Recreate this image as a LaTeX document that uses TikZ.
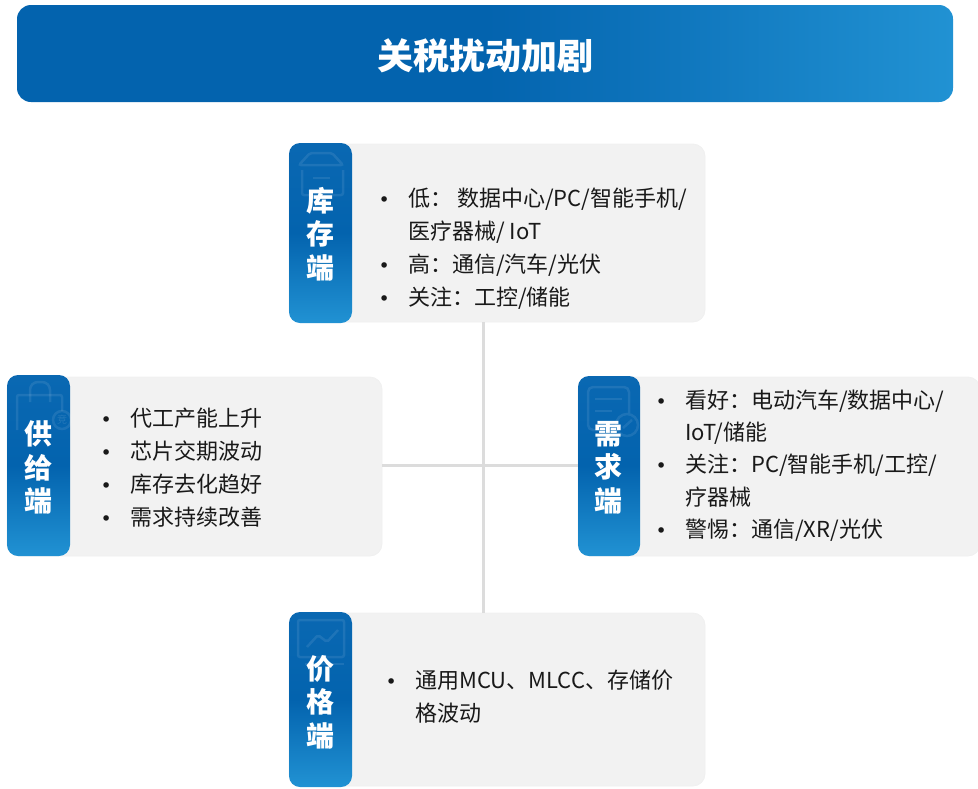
\documentclass[tikz,border=0pt]{standalone}
\usepackage{fontspec}
\setmainfont{Noto Sans CJK SC}
\newfontfamily\bulfont{DejaVu Sans}
\usetikzlibrary{calc}
\definecolor{bluedark}{HTML}{0363AE}
\definecolor{bluetop}{HTML}{0A68B2}
\definecolor{bluelight}{HTML}{2192D3}
\definecolor{cardfill}{HTML}{F2F2F2}
\definecolor{cardedge}{HTML}{F0F0F0}
\definecolor{linkgray}{HTML}{DCDCDC}
\newcommand{\bulitem}[1]{\makebox[27pt][l]{\hspace*{-2.5pt}{\bulfont\fontsize{19}{19}\selectfont •}}#1}
\newcommand{\contitem}[1]{\hspace*{27pt}#1}
\tikzset{
  titlebar/.style={anchor=north west,inner sep=0pt,outer sep=0pt,rounded corners=14pt,minimum width=936pt,minimum height=97pt,
    left color=bluedark,right color=bluelight,middle color=bluedark},
  carditem/.style={anchor=north west,inner sep=0pt,outer sep=0pt,rounded corners=12pt,fill=cardfill,draw=cardedge,line width=.8pt},
  tabitem/.style={anchor=north west,inner sep=0pt,outer sep=0pt,rounded corners=11pt,minimum width=63pt,
    top color=bluetop,bottom color=bluelight,middle color=bluedark},
  tablabel/.style={text=white,font=\fontsize{28}{33.5}\selectfont\bfseries,align=center,inner sep=0pt},
  bodytext/.style={anchor=west,inner sep=0pt,align=left,text=black!90,font=\fontsize{22}{33}\selectfont},
  linkline/.style={draw=linkgray,line width=3pt},
  ghost/.style={draw=white,draw opacity=.09,line width=2.5pt,rounded corners=2pt}
}
\begin{document}
\begin{tikzpicture}[x=1pt,y=-1pt]
\useasboundingbox (0,0) rectangle (978,788);
\node[titlebar] (title) at (17,5) {};
\node[text=white,font=\fontsize{36}{40}\selectfont\bfseries,inner sep=0pt] (titletext) at (485,56) {关税扰动加剧};
% cards
\node[carditem,minimum width=416pt,minimum height=178pt] (cardtop) at (289,144) {};
\node[carditem,minimum width=375pt,minimum height=179pt] (cardleft) at (7,377) {};
\node[carditem,minimum width=402pt,minimum height=179pt] (cardright) at (578,377) {};
\node[carditem,minimum width=416pt,minimum height=173pt] (cardbottom) at (289,613) {};
% connectors
\coordinate (hub) at (483,465);
\draw[linkline] (cardtop.south -| hub) -- (cardbottom.north -| hub);
\draw[linkline] (cardleft.east |- hub) -- (cardright.west |- hub);
% tabs
\node[tabitem,minimum height=180pt] (tabtop) at (289,143) {};
\node[tabitem,minimum height=181pt] (tableft) at (7,375) {};
\node[tabitem,minimum width=62pt,minimum height=180pt] (tabright) at (578,376) {};
\node[tabitem,minimum height=175pt] (tabbottom) at (289,612) {};
% ghost icons
\draw[ghost] (299,165) -- (310,153) -- (332,153) -- (343,165) -- cycle;
\draw[ghost] (302,170) -- (302,195) -- (343,195) -- (343,170);
\draw[ghost] (313,178) -- (330,178);
\draw[ghost] (17,430) -- (17,395) -- (62,395) -- (62,411);
\draw[ghost,rounded corners=8pt] (30,402) -- (30,382) -- (50,382) -- (50,402);
\draw[ghost] (62,420) circle[radius=9];
\node[text=white,opacity=.12,font=\fontsize{10}{10}\selectfont,inner sep=0pt] (ghostword) at (62,420) {竞};
\draw[ghost,rounded corners=5pt] (616,430) -- (588,430) -- (588,387) -- (629,387) -- (629,413);
\draw[ghost] (595,399) -- (622,399);
\draw[ghost] (595,411) -- (612,411);
\draw[ghost] (627,425) circle[radius=11];
\draw[ghost] (623,428) -- (632,420);
\draw[ghost] (298,620) rectangle (344,657);
\draw[ghost] (305,664) -- (344,664);
\draw[ghost] (307,647) -- (318,635) -- (327,642) -- (338,630);
% tab labels
\node[tablabel] (labeltop) at (320,234) {库\\存\\端};
\node[tablabel] (labelleft) at (38,467.5) {供\\给\\端};
\node[tablabel] (labelright) at (608.5,467.5) {需\\求\\端};
\node[tablabel] (labelbottom) at (320,702) {价\\格\\端};
% body
\node[bodytext] (texttop) at (381,248.5) {\bulitem{低： 数据中心/PC/智能手机/}\\\contitem{医疗器械/ IoT}\\\bulitem{高：通信/汽车/光伏}\\\bulitem{关注：工控/储能}};
\node[bodytext] (textleft) at (103,467.5) {\bulitem{代工产能上升}\\\bulitem{芯片交期波动}\\\bulitem{库存去化趋好}\\\bulitem{需求持续改善}};
\node[bodytext,font=\fontsize{22}{32.4}\selectfont] (textright) at (658,465.5) {\bulitem{看好：电动汽车/数据中心/}\\\contitem{IoT/储能}\\\bulitem{关注：PC/智能手机/工控/}\\\contitem{疗器械}\\\bulitem{警惕：通信/XR/光伏}};
\node[bodytext] (textbottom) at (388,696.5) {\bulitem{通用MCU、MLCC、存储价}\\\contitem{格波动}};
\end{tikzpicture}
\end{document}
